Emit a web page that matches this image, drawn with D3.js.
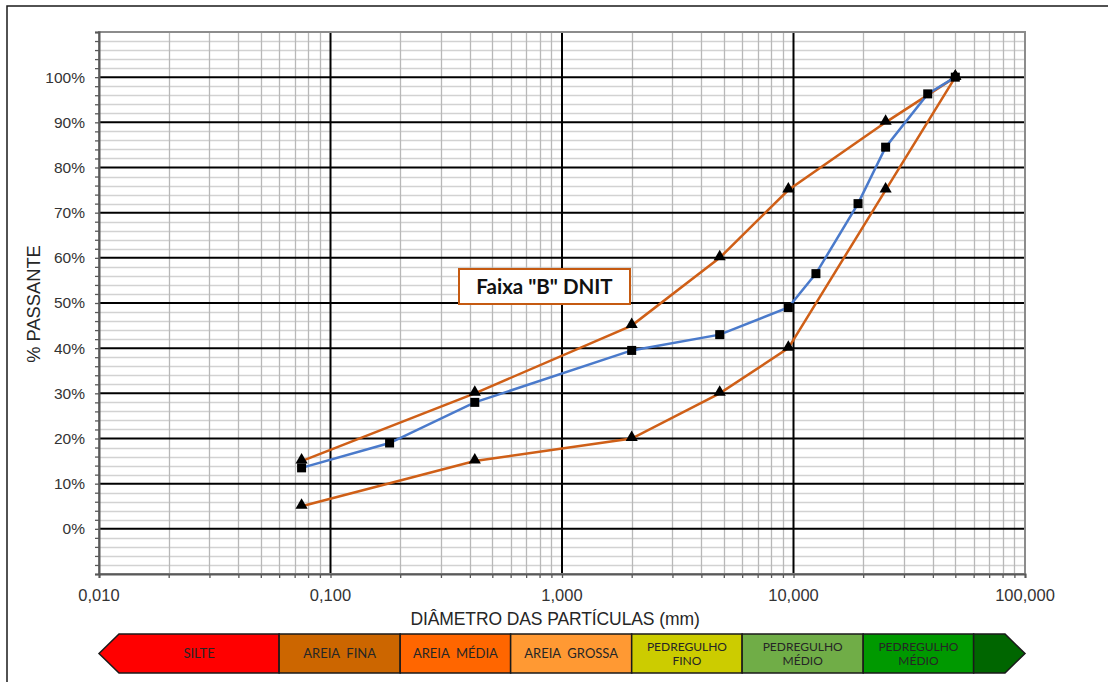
<!DOCTYPE html>
<html>
<head>
<meta charset="utf-8">
<script src="https://cdn.jsdelivr.net/npm/d3@7"></script>
<style>
  html, body { margin: 0; padding: 0; background: #fff; }
  svg { display: block; }
</style>
</head>
<body>
<svg id="chart" width="1108" height="682"></svg>
<script>
// Granulometric curve (sieve analysis) against DNIT grading band "B"
const sieveSizes = [0.075, 0.18, 0.42, 2.0, 4.8, 9.5, 12.5, 19, 25, 38, 50];
const passing    = [13.5, 19, 28, 39.5, 43, 49, 56.5, 72, 84.5, 96.3, 100];

const limitSizes = [0.075, 0.42, 2.0, 4.8, 9.5, 25, 50];
const upperLimit = [15, 30, 45, 60, 75, 90, 100];
const lowerLimit = [5, 15, 20, 30, 40, 75, 100];

const xTickValues = [0.01, 0.1, 1, 10, 100];
const xTickLabels = ["0,010", "0,100", "1,000", "10,000", "100,000"];
const yTickValues = [0, 10, 20, 30, 40, 50, 60, 70, 80, 90, 100];
const yTickLabels = ["0%", "10%", "20%", "30%", "40%", "50%", "60%", "70%", "80%", "90%", "100%"];

// Soil classification strip (boundaries in mm)
const soilClasses = [
  ["SILTE"], ["AREIA  FINA"], ["AREIA  MÉDIA"], ["AREIA  GROSSA"],
  ["PEDREGULHO", "FINO"], ["PEDREGULHO", "MÉDIO"], ["PEDREGULHO", "MÉDIO"], [""]
];
const soilBounds = [0.01, 0.06, 0.2, 0.6, 2, 6, 20, 60, 100];
const soilColors = ["#ff0000", "#cc6600", "#ff6600", "#ff9933", "#cccc00", "#70ad47", "#009900", "#006600"];

const svg = d3.select("#chart");
const W = 1108, H = 682;

// outer frame
svg.append("rect").attr("x", 7).attr("y", 6).attr("width", W).attr("height", H)
  .attr("fill", "none").attr("stroke", "#1a1a1a").attr("stroke-width", 1.5);

const plot = { left: 99, right: 1025, top: 32, bottom: 574 };
const x = d3.scaleLog().domain([0.01, 100]).range([plot.left, plot.right]);
const y = d3.scaleLinear().domain([-10, 110]).range([plot.bottom, plot.top]);

// minor values
const xMinor = [];
for (let d = 0.01; d < 100; d *= 10) for (let k = 2; k <= 9; k++) xMinor.push(+(d * k).toPrecision(3));
const yMinor = d3.range(-10, 111, 2).filter(v => v % 10 !== 0);

const grid = svg.append("g");
// horizontal minor
grid.selectAll(".hmin").data(yMinor).join("line")
  .attr("x1", plot.left).attr("x2", plot.right)
  .attr("y1", d => Math.round(y(d)) + 0.5).attr("y2", d => Math.round(y(d)) + 0.5)
  .attr("stroke", "#d2d2d2").attr("stroke-width", 1.3);
// vertical minor
grid.selectAll(".vmin").data(xMinor).join("line")
  .attr("y1", plot.top).attr("y2", plot.bottom)
  .attr("x1", d => Math.round(x(d)) + 0.5).attr("x2", d => Math.round(x(d)) + 0.5)
  .attr("stroke", "#b8b8b8").attr("stroke-width", 1.3);
// horizontal major
grid.selectAll(".hmaj").data(yTickValues).join("line")
  .attr("x1", plot.left).attr("x2", plot.right)
  .attr("y1", d => y(d)).attr("y2", d => y(d))
  .attr("stroke", "#000").attr("stroke-width", 2);
// vertical major
grid.selectAll(".vmaj").data([0.1, 1, 10]).join("line")
  .attr("y1", plot.top).attr("y2", plot.bottom)
  .attr("x1", d => x(d)).attr("x2", d => x(d))
  .attr("stroke", "#000").attr("stroke-width", 2);

// plot border
svg.append("rect").attr("x", plot.left).attr("y", plot.top)
  .attr("width", plot.right - plot.left).attr("height", plot.bottom - plot.top)
  .attr("fill", "none").attr("stroke", "#8c8c8c").attr("stroke-width", 2);

// axes
const yAxis = d3.axisLeft(y).tickValues(d3.range(-10, 111, 2)).tickSize(4).tickFormat("");
svg.append("g").attr("transform", `translate(${plot.left},0)`).call(yAxis)
  .call(g => g.select(".domain").attr("stroke", "#595959").attr("stroke-width", 2))
  .call(g => g.selectAll(".tick line").attr("stroke", "#595959").attr("stroke-width", 1.3));

const xAxis = d3.axisBottom(x).tickValues(xMinor.concat(xTickValues)).tickSize(4).tickFormat("");
svg.append("g").attr("transform", `translate(0,${plot.bottom})`).call(xAxis)
  .call(g => g.select(".domain").attr("stroke", "#595959").attr("stroke-width", 2))
  .call(g => g.selectAll(".tick line").attr("stroke", "#595959").attr("stroke-width", 1.3));

// tick labels
svg.append("g").selectAll("text").data(yTickValues).join("text")
  .attr("x", 85).attr("y", d => y(d)).attr("dy", "0.35em")
  .attr("text-anchor", "end")
  .attr("font-family", "'Liberation Sans', Arial, sans-serif").attr("font-size", 15.5)
  .attr("fill", "#333")
  .text((d, i) => yTickLabels[i]);

svg.append("g").selectAll("text").data(xTickValues).join("text")
  .attr("x", d => x(d)).attr("y", 601)
  .attr("text-anchor", "middle")
  .attr("font-family", "'Liberation Sans', Arial, sans-serif").attr("font-size", 16.5)
  .attr("fill", "#333")
  .text((d, i) => xTickLabels[i]);

// axis titles
svg.append("text")
  .attr("transform", "translate(40,304) rotate(-90)")
  .attr("text-anchor", "middle")
  .attr("font-family", "'Liberation Sans', Arial, sans-serif").attr("font-size", 18.3)
  .attr("fill", "#262626")
  .text("% PASSANTE");

svg.append("text")
  .attr("x", 555).attr("y", 625)
  .attr("text-anchor", "middle")
  .attr("font-family", "'Liberation Sans', Arial, sans-serif").attr("font-size", 17.5)
  .attr("letter-spacing", -0.1)
  .attr("fill", "#262626")
  .text("DIÂMETRO DAS PARTÍCULAS (mm)");

// series
const line = d3.line().x(d => x(d[0])).y(d => y(d[1]));
const upperPts = limitSizes.map((s, i) => [s, upperLimit[i]]);
const lowerPts = limitSizes.map((s, i) => [s, lowerLimit[i]]);
const curvePts = sieveSizes.map((s, i) => [s, passing[i]]);

svg.append("path").datum(upperPts).attr("d", line)
  .attr("fill", "none").attr("stroke", "#cf5f17").attr("stroke-width", 2.5);
svg.append("path").datum(lowerPts).attr("d", line)
  .attr("fill", "none").attr("stroke", "#cf5f17").attr("stroke-width", 2.5);

const tri = d3.symbol().type(d3.symbolTriangle).size(64);
svg.append("g").selectAll("path").data(upperPts.concat(lowerPts)).join("path")
  .attr("d", tri)
  .attr("transform", d => `translate(${x(d[0])},${y(d[1]) - 1})`)
  .attr("fill", "#000");

svg.append("path").datum(curvePts).attr("d", line)
  .attr("fill", "none").attr("stroke", "#4a7acb").attr("stroke-width", 2.5);

svg.append("g").selectAll("rect").data(curvePts).join("rect")
  .attr("x", d => x(d[0]) - 4.5).attr("y", d => y(d[1]) - 4.5)
  .attr("width", 9).attr("height", 9).attr("fill", "#000");

// band label
const lab = svg.append("g");
lab.append("rect").attr("x", 459).attr("y", 269).attr("width", 171).attr("height", 35)
  .attr("fill", "#fff").attr("stroke", "#c55a11").attr("stroke-width", 2);
lab.append("text").attr("x", 544.5).attr("y", 287).attr("dy", "0.36em")
  .attr("text-anchor", "middle")
  .attr("font-family", "Lato, 'Open Sans', sans-serif").attr("font-weight", "bold")
  .attr("font-size", 20.5).attr("fill", "#111")
  .text('Faixa "B" DNIT');

// soil classification strip
const sTop = 634, sBot = 673, sMid = (sTop + sBot) / 2, head = 20;
const strip = svg.append("g");
soilClasses.forEach((lbl, i) => {
  const x0 = x(soilBounds[i]), x1 = x(soilBounds[i + 1]);
  let pts;
  if (i === 0) {
    pts = [[x0, sMid], [x0 + head, sTop], [x1, sTop], [x1, sBot], [x0 + head, sBot]];
  } else if (i === soilClasses.length - 1) {
    pts = [[x0, sTop], [x1 - head, sTop], [x1, sMid], [x1 - head, sBot], [x0, sBot]];
  } else {
    pts = [[x0, sTop], [x1, sTop], [x1, sBot], [x0, sBot]];
  }
  strip.append("polygon").attr("points", pts.map(p => p.join(",")).join(" "))
    .attr("fill", soilColors[i]).attr("stroke", "#1a1a1a").attr("stroke-width", 1.5)
    .attr("stroke-linejoin", "miter");
  const cx = i === 0 ? (x0 + head + x1) / 2 : (x0 + x1) / 2;
  const two = lbl.length > 1;
  const t = strip.append("text").attr("text-anchor", "middle")
    .attr("font-family", "Lato, 'Open Sans', sans-serif").attr("font-size", two ? 12 : 13)
    .attr("fill", "#262626").attr("xml:space", "preserve");
  if (!two) {
    t.append("tspan").attr("x", cx).attr("y", sMid).attr("dy", "0.36em").text(lbl[0]);
  } else {
    t.append("tspan").attr("x", cx).attr("y", sMid - 7).attr("dy", "0.36em").text(lbl[0]);
    t.append("tspan").attr("x", cx).attr("y", sMid + 7).attr("dy", "0.36em").text(lbl[1]);
  }
});
</script>
</body>
</html>
